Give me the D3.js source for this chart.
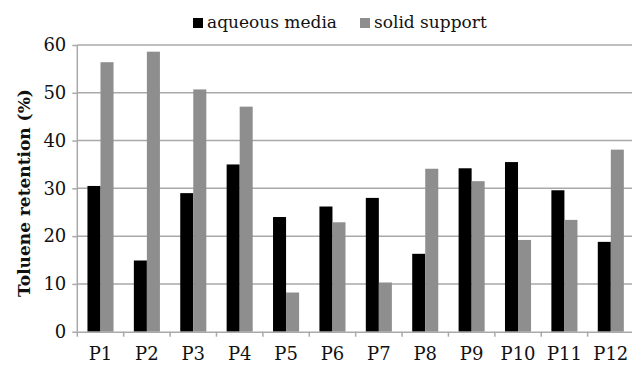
<!DOCTYPE html>
<html>
<head>
    <script src="https://d3js.org/d3.v7.min.js"></script>
    <style>
        body { margin: 0; background: #fff; }
        text { font-family: "DejaVu Serif", serif; }
    </style>
</head>
<body>
    <div id="chart"></div>
    <script>
        // data
        const categories = ["P1", "P2", "P3", "P4", "P5", "P6", "P7", "P8", "P9", "P10", "P11", "P12"];
        const aqueous = [30.5, 14.9, 29.0, 35.0, 24.0, 26.2, 28.0, 16.3, 34.2, 35.5, 29.6, 18.8];
        const solid = [56.4, 58.6, 50.7, 47.1, 8.2, 22.9, 10.3, 34.1, 31.5, 19.2, 23.4, 38.1];
        const seriesNames = ["aqueous media", "solid support"];
        const yTicks = [0, 10, 20, 30, 40, 50, 60];

        const width = 632, height = 365;
        const margin = { top: 45, right: -2, bottom: 33.3, left: 77.3 };

        const svg = d3.select("#chart")
            .append("svg")
            .attr("width", width)
            .attr("height", height);

        const x = d3.scaleBand()
            .domain(categories)
            .range([margin.left, width - margin.right]);

        const sub = d3.scaleBand()
            .domain(seriesNames)
            .range([0, x.bandwidth()])
            .paddingInner(0)
            .paddingOuter(0.78);

        const y = d3.scaleLinear()
            .domain([0, 60])
            .range([height - margin.bottom, margin.top]);

        const color = d3.scaleOrdinal()
            .domain(seriesNames)
            .range(["#000000", "#8e8e8e"]);

        // gridlines
        svg.append("g")
            .selectAll("line")
            .data(yTicks.slice(1))
            .join("line")
            .attr("x1", margin.left)
            .attr("x2", width)
            .attr("y1", d => y(d))
            .attr("y2", d => y(d))
            .attr("stroke", "#a9a9a9")
            .attr("stroke-width", 1.5);

        // bars
        const rows = categories.map((c, i) => ({ cat: c, values: [aqueous[i], solid[i]] }));
        svg.append("g")
            .selectAll("g")
            .data(rows)
            .join("g")
            .attr("transform", d => "translate(" + x(d.cat) + ",0)")
            .selectAll("rect")
            .data(d => d.values.map((v, j) => ({ key: seriesNames[j], value: v })))
            .join("rect")
            .attr("x", d => sub(d.key))
            .attr("width", sub.bandwidth())
            .attr("y", d => y(d.value))
            .attr("height", d => y(0) - y(d.value))
            .attr("fill", d => color(d.key));

        // y axis
        const yAxis = svg.append("g")
            .attr("transform", "translate(" + margin.left + ",0)")
            .call(d3.axisLeft(y).tickValues(yTicks).tickSize(5).tickPadding(6));
        yAxis.selectAll("line, path").attr("stroke", "#a9a9a9").attr("stroke-width", 1.5);
        yAxis.select(".domain").attr("d", "M0," + y(60) + "V" + y(0));
        yAxis.selectAll("text").attr("font-size", 18).attr("fill", "#111");

        // x axis
        const xAxis = svg.append("g")
            .attr("transform", "translate(0," + y(0) + ")")
            .call(d3.axisBottom(x).tickSize(0).tickPadding(16));
        xAxis.select(".domain").attr("stroke", "#a9a9a9").attr("stroke-width", 1.5);
        xAxis.selectAll("text").attr("font-size", 18).attr("fill", "#111");

        // category boundary ticks
        svg.append("g")
            .selectAll("line")
            .data(categories)
            .join("line")
            .attr("x1", d => x(d))
            .attr("x2", d => x(d))
            .attr("y1", y(0))
            .attr("y2", y(0) + 5)
            .attr("stroke", "#a9a9a9")
            .attr("stroke-width", 1.5);

        // y label
        svg.append("text")
            .attr("transform", "translate(24,193) rotate(-90)")
            .attr("text-anchor", "middle")
            .attr("dy", "0.35em")
            .attr("font-size", 17)
            .attr("font-weight", "bold")
            .attr("fill", "#111")
            .text("Toluene retention (%)");

        // legend
        const legendX = [193, 360];
        const legend = svg.append("g")
            .selectAll("g")
            .data(seriesNames)
            .join("g")
            .attr("transform", (d, i) => "translate(" + legendX[i] + ",18)");
        legend.append("rect")
            .attr("width", 10)
            .attr("height", 10)
            .attr("fill", d => color(d));
        legend.append("text")
            .attr("x", 14)
            .attr("y", 10)
            .attr("font-size", 17)
            .attr("fill", "#111")
            .text(d => d);
    </script>
</body>
</html>
